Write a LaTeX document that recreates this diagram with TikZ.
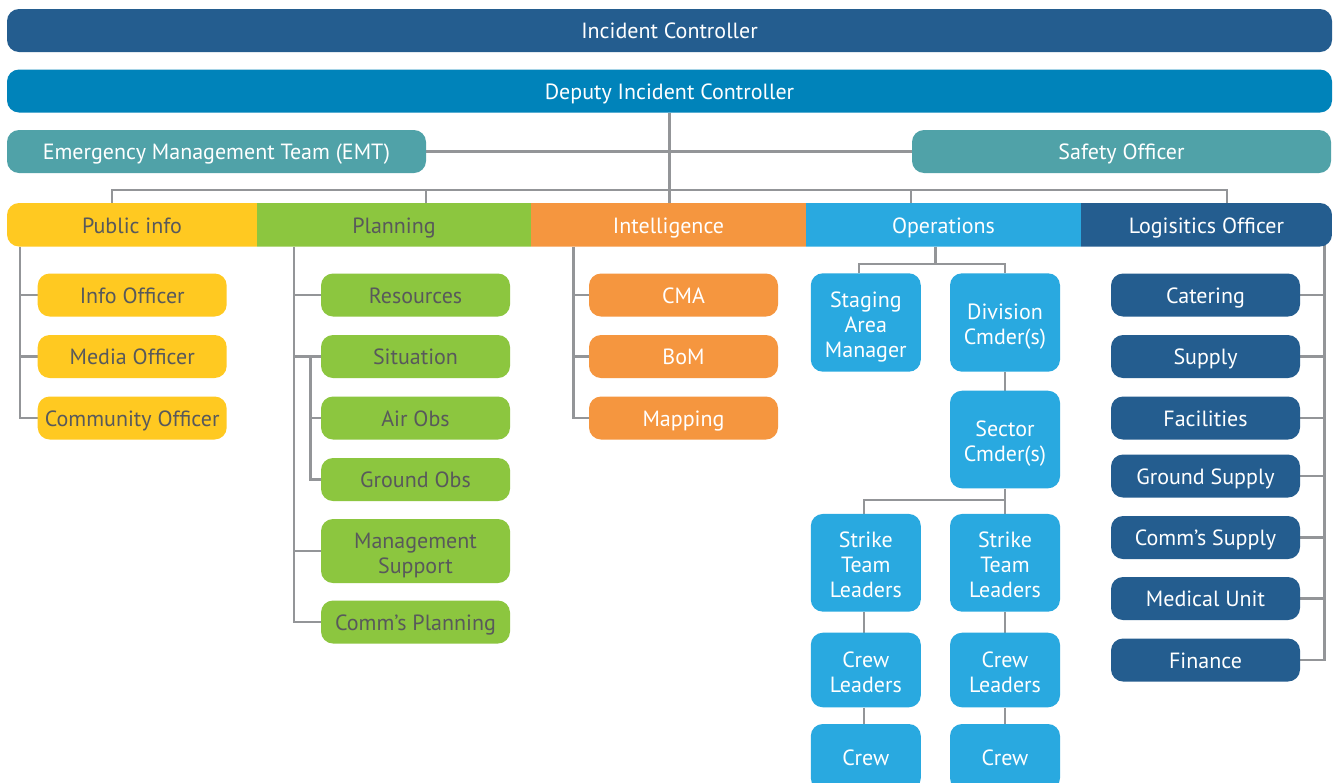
\documentclass[tikz,border=0pt]{standalone}
\usepackage{fontspec}
\setmainfont{PT Sans}
\usetikzlibrary{backgrounds}
\definecolor{icblue}{HTML}{245D8F}
\definecolor{dicblue}{HTML}{0083BA}
\definecolor{emtteal}{HTML}{50A2A8}
\definecolor{pubyellow}{HTML}{FFC921}
\definecolor{plangreen}{HTML}{8CC63F}
\definecolor{intorange}{HTML}{F5963F}
\definecolor{opsblue}{HTML}{29A9E0}
\definecolor{logblue}{HTML}{245D8F}
\definecolor{linegray}{HTML}{939598}
\definecolor{textgray}{HTML}{58595B}
% tall strut on the first line of stacked labels, to lower them a little
\newcommand{\tallstrut}{\rule{0pt}{25.1pt}}
\begin{document}
\begin{tikzpicture}[x=1pt,y=-1pt,
  every node/.style={font=\fontsize{22}{25}\selectfont,
    execute at begin node={\rule{0pt}{22.1pt}},
    execute at end node={\rule[-5.5pt]{0pt}{0pt}}},
  conn/.style={draw=linegray, line width=2.6pt},
  bar/.style={rounded corners=12pt, inner sep=0pt, minimum height=43pt, text=white},
  dept/.style={rectangle, inner sep=0pt, minimum height=43.5pt},
  box/.style={rounded corners=12pt, inner sep=0pt, minimum width=189pt, minimum height=43pt, align=center},
  pubbox/.style={box, fill=pubyellow, text=textgray},
  planbox/.style={box, fill=plangreen, text=textgray},
  intbox/.style={box, fill=intorange, text=white},
  logbox/.style={box, fill=logblue, text=white},
  opsbox/.style={rounded corners=12pt, inner sep=0pt, minimum width=110pt, align=center, fill=opsblue, text=white}
]
\clip (0,0) rectangle (1336,782);
\useasboundingbox (0,0) rectangle (1336,782);

% command levels
\node[bar, fill=icblue, minimum width=1325pt] (ic) at (669.5,30.5) {Incident Controller};
\node[bar, fill=dicblue, minimum width=1325pt] (dic) at (669.5,91) {Deputy Incident Controller};
\node[bar, fill=emtteal, minimum width=419pt] (emt) at (216.5,151.5) {Emergency Management Team (EMT)};
\node[bar, fill=emtteal, minimum width=419pt] (so) at (1121.5,151.5) {Safety Officer};

% functional sections, one bar with rounded outer ends
\begin{scope}
  \clip[rounded corners=12pt] (7,203) rectangle (1332,246.5);
  \node[dept, fill=pubyellow, text=textgray, minimum width=250.5pt] (pub) at (132,224.75) {Public info};
  \node[dept, fill=plangreen, text=textgray, minimum width=274.5pt] (plan) at (394,224.75) {Planning};
  \node[dept, fill=intorange, text=white, minimum width=275.5pt] (intel) at (668.5,224.75) {Intelligence};
  \node[dept, fill=opsblue, text=white, minimum width=275.5pt] (ops) at (943.5,224.75) {Operations};
  \node[dept, fill=logblue, text=white, minimum width=251.5pt] (log) at (1206.5,224.75) {Logisitics Officer};
\end{scope}

% public info
\node[pubbox] (info) at (132.2,295) {Info Officer};
\node[pubbox] (media) at (132.2,356.5) {Media Officer};
\node[pubbox] (community) at (132.2,418) {Community Officer};

% planning
\node[planbox] (res) at (415.5,295) {Resources};
\node[planbox] (sit) at (415.5,356.5) {Situation};
\node[planbox] (air) at (415.5,418) {Air Obs};
\node[planbox] (ground) at (415.5,479.5) {Ground Obs};
\node[planbox, minimum height=64pt] (mgmt) at (415.5,551) {\tallstrut Management\\Support};
\node[planbox] (cplan) at (415.5,622) {Comm’s Planning};

% intelligence
\node[intbox] (cma) at (683.5,295) {CMA};
\node[intbox] (bom) at (683.5,356.5) {BoM};
\node[intbox] (map) at (683.5,418) {Mapping};

% operations
\node[opsbox, minimum height=98.4pt] (stag) at (865.8,322.5) {\tallstrut Staging\\Area\\Manager};
\node[opsbox, minimum height=98.4pt] (div) at (1005,322.5) {\tallstrut Division\\Cmder(s)};
\node[opsbox, minimum height=97.6pt] (sec) at (1005,439.5) {\tallstrut Sector\\Cmder(s)};
\node[opsbox, minimum height=97.7pt] (stlA) at (865.8,562.8) {\tallstrut Strike\\Team\\Leaders};
\node[opsbox, minimum height=97.7pt] (stlB) at (1005,562.8) {\tallstrut Strike\\Team\\Leaders};
\node[opsbox, minimum height=74.6pt] (clA) at (865.8,670) {\tallstrut Crew\\Leaders};
\node[opsbox, minimum height=74.6pt] (clB) at (1005,670) {\tallstrut Crew\\Leaders};
\node[opsbox, minimum height=66pt] (crewA) at (865.8,757) {Crew};
\node[opsbox, minimum height=66pt] (crewB) at (1005,757) {Crew};

% logistics
\node[logbox] (cat) at (1205.5,295) {Catering};
\node[logbox] (sup) at (1205.5,356.5) {Supply};
\node[logbox] (fac) at (1205.5,418) {Facilities};
\node[logbox] (gsup) at (1205.5,476) {Ground Supply};
\node[logbox] (csup) at (1205.5,537.5) {Comm’s Supply};
\node[logbox] (med) at (1205.5,598.5) {Medical Unit};
\node[logbox] (fin) at (1205.5,660) {Finance};

\coordinate (bus) at (669,190);
\coordinate (opsbus) at (935.5,264);
\coordinate (secbus) at (1005,500);

\begin{scope}[on background layer]
  \fill[white] (0,0) rectangle (1336,782);
  % command chain
  \draw[conn] (dic.south) -- (dic.south |- intel.north);
  \draw[conn] (emt.east) -- (so.west);
  \draw[conn] ([xshift=-20pt]pub.north) |- (bus) -| ([xshift=20.5pt]log.north);
  \draw[conn] ([xshift=32pt]plan.north) -- ([xshift=32pt]plan.north |- bus);
  \draw[conn] ([xshift=-32.5pt]ops.north) -- ([xshift=-32.5pt]ops.north |- bus);
  % public info
  \draw[conn] ([xshift=-112pt]pub.south) |- (community.west);
  \draw[conn] ([xshift=-112pt]pub.south |- info.west) -- (info.west);
  \draw[conn] ([xshift=-112pt]pub.south |- media.west) -- (media.west);
  % planning
  \draw[conn] ([xshift=-100pt]plan.south) |- (cplan.west);
  \draw[conn] ([xshift=-100pt]plan.south |- res.west) -- (res.west);
  \draw[conn] ([xshift=-100pt]plan.south |- sit.west) -- (sit.west);
  \draw[conn] ([xshift=-100pt]plan.south |- mgmt.west) -- (mgmt.west);
  \draw[conn] ([xshift=-10.5pt]sit.west) |- (ground.west);
  \draw[conn] ([xshift=-10.5pt]air.west) -- (air.west);
  % intelligence
  \draw[conn] ([xshift=-95pt]intel.south) |- (map.west);
  \draw[conn] ([xshift=-95pt]intel.south |- cma.west) -- (cma.west);
  \draw[conn] ([xshift=-95pt]intel.south |- bom.west) -- (bom.west);
  % operations
  \draw[conn] ([xshift=-8pt]ops.south) -- (opsbus);
  \draw[conn] ([xshift=-7pt]stag.north) |- (opsbus) -| (div.north);
  \draw[conn] (div.south) -- (sec.north);
  \draw[conn] (sec.south) -- (stlB.north);
  \draw[conn] ([xshift=-2pt]stlA.north) |- (secbus);
  \draw[conn] ([xshift=-2pt]stlA.south) -- ([xshift=-2pt]clA.north);
  \draw[conn] ([xshift=-2pt]clA.south) -- ([xshift=-2pt]crewA.north);
  \draw[conn] (stlB.south) -- (clB.north);
  \draw[conn] (clB.south) -- (crewB.north);
  % logistics
  \draw[conn] ([xshift=118pt,yshift=6pt]log.south) |- (fin.east);
  \foreach \n in {cat,sup,fac,gsup,csup,med}
    \draw[conn] (\n.east) -- ([xshift=118pt]log.south |- \n.east);
\end{scope}
\end{tikzpicture}
\end{document}
